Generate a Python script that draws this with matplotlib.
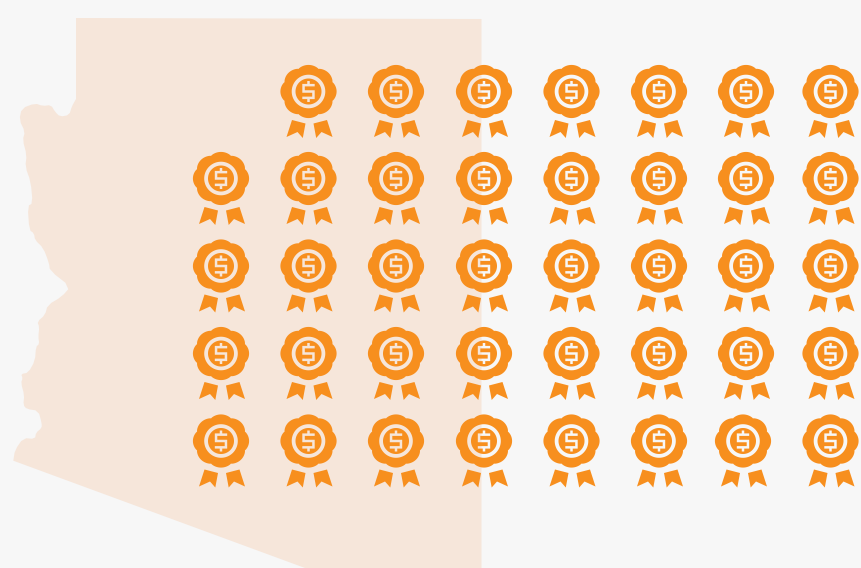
import numpy as np
import matplotlib
matplotlib.use("Agg")
import matplotlib.pyplot as plt
from matplotlib.path import Path
from matplotlib.patches import PathPatch, Polygon
from matplotlib.transforms import Affine2D

# Pictogram grid: column centres and how many icons each holds (counted from the bottom)
column_x = [221, 308.5, 396, 484, 571.5, 659, 746, 830.5]
column_counts = [4, 5, 5, 5, 5, 5, 5, 5]
row_y = [442, 354.5, 267, 179.5, 92.5]
bottom_row_x_shift = [0, 0, 0, 0, 0, 0, -3, 0]

state_x = [76, 76, 71.7, 69.3, 60, 55, 51, 42.7, 35, 21.7, 19.3, 25, 22.7, 26.7, 25.3, 30.7, 32.7,
           27.7, 29.3, 34, 35, 43.3, 49, 50, 70.5, 61.7, 47.7, 45, 37.3, 39.3, 38.3, 39.3, 36, 35,
           28.3, 21, 22.7, 21, 24.3, 23.3, 26.7, 38.3, 41.7, 41.7, 36, 35, 23.3, 15, 13.3, 305, 481.5, 481.5]
state_y = [18, 99, 106.7, 115, 116.7, 111.7, 105, 106, 103.3, 108.3, 120, 131.7, 140, 155, 166.7, 181.7, 203.3,
           206, 230, 233.3, 240, 248, 263, 270.7, 286.7, 296.7, 305, 315, 321.7, 327, 336.7, 344, 346.7, 360.7,
           372.7, 374, 378, 383, 395, 405, 409, 410.7, 423, 428, 432.7, 439, 438, 450, 460.7, 568, 568, 19]

BG = "#f7f7f7"
STATE = "#f6e6da"
ORANGE = "#f78f1e"
HEAD_DY = -1.0


def chaikin(points, rounds=1):
    # soften the traced border between its fixed end points
    p = np.asarray(points, dtype=float)
    for _ in range(rounds):
        q = 0.75 * p[:-1] + 0.25 * p[1:]
        r = 0.25 * p[:-1] + 0.75 * p[1:]
        mid = np.empty((2 * len(q), 2))
        mid[0::2], mid[1::2] = q, r
        p = np.vstack([p[:1], mid, p[-1:]])
    return p


def ring(radius, n=96):
    t = np.linspace(0, 2 * np.pi, n, endpoint=False)
    return np.column_stack([radius * np.cos(t), radius * np.sin(t) + HEAD_DY])


def flower(n=480):
    t = np.linspace(0, 2 * np.pi, n, endpoint=False)
    r = 25.2 + 2.2 * np.abs(np.cos(4 * t)) ** 0.75
    return np.column_stack([1.025 * r * np.cos(t), 0.97 * r * np.sin(t) + HEAD_DY])


def closed(points):
    verts = np.vstack([points, points[:1]])
    codes = [Path.MOVETO] + [Path.LINETO] * (len(points) - 1) + [Path.CLOSEPOLY]
    return verts, codes


def dollar():
    w, h, s, u = 6.2, 7.6, 2.5, 1.25
    e = 10.5
    pts = [(-u, -e), (u, -e), (u, -h), (w, -h), (w, -h + s), (-w + s, -h + s), (-w + s, -s / 2),
           (w, -s / 2), (w, h), (u, h), (u, e), (-u, e), (-u, h), (-w, h), (-w, h - s),
           (w - s, h - s), (w - s, s / 2), (-w, s / 2), (-w, -h), (-u, -h)]
    return np.array(pts, dtype=float) + np.array([0, HEAD_DY])


def signed_area(p):
    x, y = p[:, 0], p[:, 1]
    return 0.5 * np.sum(x * np.roll(y, -1) - np.roll(x, -1) * y)


def oriented(p, positive):
    return p if (signed_area(p) > 0) == positive else p[::-1]


def ribbon(sign):
    pts = [(-17.5, 27.5), (-4.0, 31.0), (-6.7, 45.5), (-12, 39.5), (-23, 44.5)]
    return np.array([(sign * x + 1.0, y) for x, y in pts], dtype=float)


parts = [oriented(flower(), True), oriented(ring(16.8), False), oriented(ring(13.0), True),
         oriented(dollar(), False), oriented(ribbon(1), True), oriented(ribbon(-1), True)]
verts, codes = [], []
for part in parts:
    v, c = closed(part)
    verts.append(v)
    codes += c
icon = Path(np.vstack(verts), codes)

fig = plt.figure(figsize=(8.61, 5.68), dpi=100, facecolor=BG)
ax = fig.add_axes([0, 0, 1, 1])
ax.set_xlim(0, 861)
ax.set_ylim(568, 0)
ax.axis("off")

border = np.column_stack([state_x, state_y])
west = chaikin(border[1:49])
outline = np.vstack([border[:1], west, border[49:]])
ax.add_patch(Polygon(outline, closed=True, facecolor=STATE, edgecolor="none"))

for x, count, shift in zip(column_x, column_counts, bottom_row_x_shift):
    for i, y in enumerate(row_y[:count]):
        px = x + (shift if i == 0 else 0)
        ax.add_patch(PathPatch(icon, facecolor=ORANGE, edgecolor="none",
                               transform=Affine2D().translate(px, y) + ax.transData))

fig.savefig("out.png", dpi=100, facecolor=BG)
